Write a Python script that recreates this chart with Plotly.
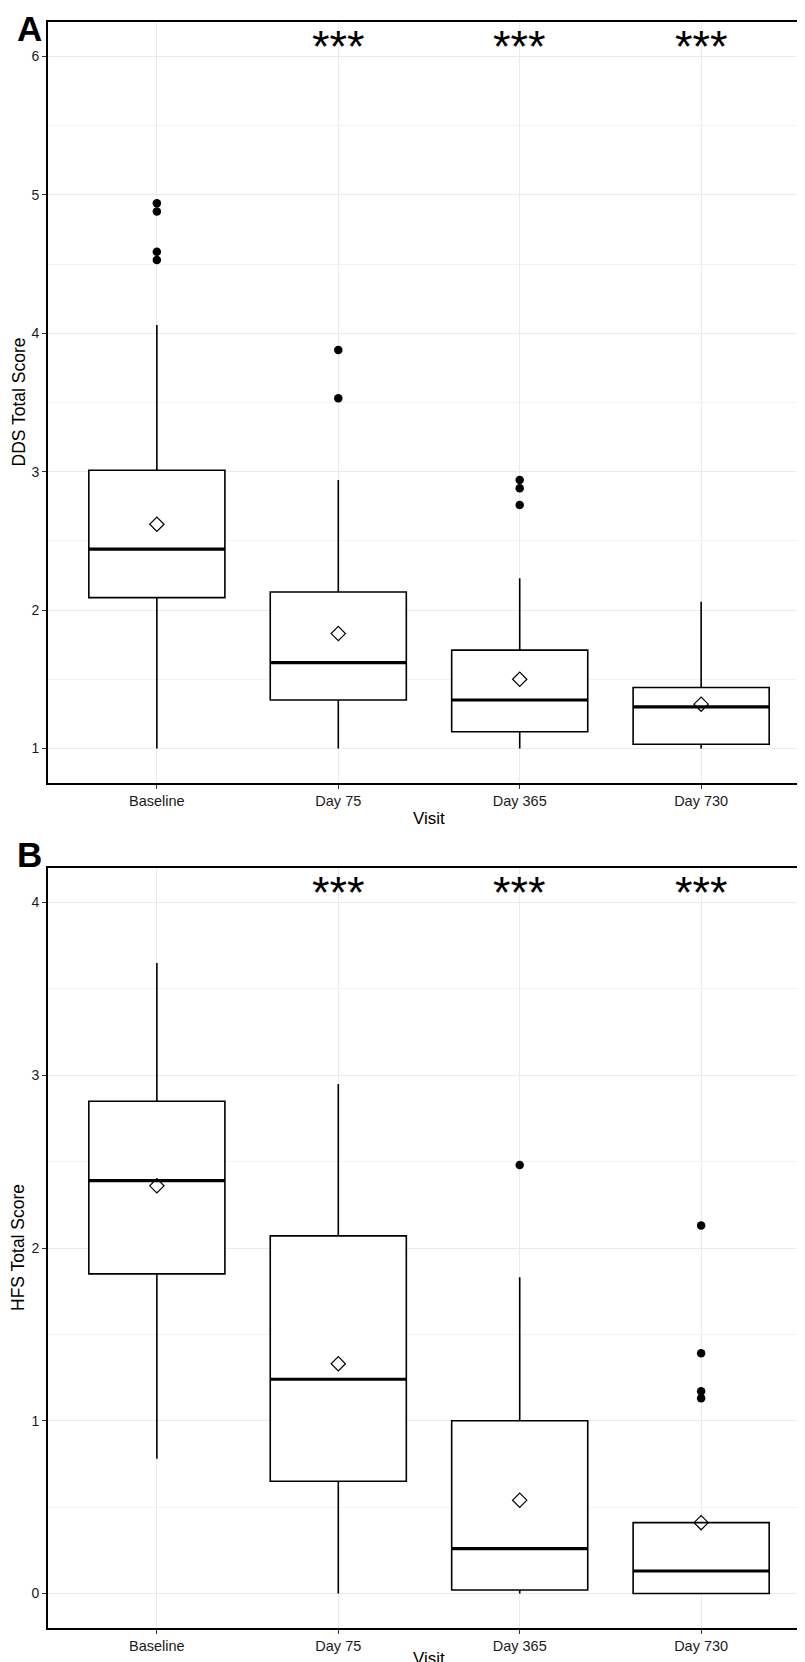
import plotly.graph_objects as go

# ---------------- data ----------------
categories = ["Baseline", "Day 75", "Day 365", "Day 730"]
sig_labels = ["", "***", "***", "***"]

# Panel A: DDS Total Score
dds_lower = [1.00, 1.00, 1.00, 1.00]
dds_q1 = [2.09, 1.35, 1.12, 1.03]
dds_median = [2.44, 1.62, 1.35, 1.30]
dds_q3 = [3.01, 2.13, 1.71, 1.44]
dds_upper = [4.06, 2.94, 2.23, 2.06]
dds_mean = [2.62, 1.83, 1.50, 1.32]
dds_out_visit = ["Baseline", "Baseline", "Baseline", "Baseline", "Day 75", "Day 75", "Day 365", "Day 365", "Day 365"]
dds_out_value = [4.94, 4.88, 4.59, 4.53, 3.88, 3.53, 2.94, 2.88, 2.76]

# Panel B: HFS Total Score
hfs_lower = [0.78, 0.00, 0.00, 0.00]
hfs_q1 = [1.85, 0.65, 0.02, 0.00]
hfs_median = [2.39, 1.24, 0.26, 0.13]
hfs_q3 = [2.85, 2.07, 1.00, 0.41]
hfs_upper = [3.65, 2.95, 1.83, 0.41]
hfs_mean = [2.36, 1.33, 0.54, 0.41]
hfs_out_visit = ["Day 365", "Day 730", "Day 730", "Day 730", "Day 730"]
hfs_out_value = [2.48, 2.13, 1.39, 1.17, 1.13]

sig_y_dds = 6
sig_y_hfs = 4

# ---------------- styling ----------------
W, H = 805, 1662
FONT = "Liberation Sans, Arial, Helvetica, sans-serif"
BOX_W = 0.75
pos = list(range(len(categories)))
idx = {c: i for i, c in enumerate(categories)}


def py(px):
    return 1 - px / H


def px_x(px):
    return px / W


fig = go.Figure()

panels = [
    dict(xa="x", ya="y", lower=dds_lower, q1=dds_q1, med=dds_median, q3=dds_q3, upper=dds_upper,
         mean=dds_mean, ov=dds_out_visit, oy=dds_out_value, sigy=sig_y_dds),
    dict(xa="x2", ya="y2", lower=hfs_lower, q1=hfs_q1, med=hfs_median, q3=hfs_q3, upper=hfs_upper,
         mean=hfs_mean, ov=hfs_out_visit, oy=hfs_out_value, sigy=sig_y_hfs),
]

for p in panels:
    fig.add_trace(go.Box(
        x=pos, lowerfence=p["lower"], q1=p["q1"], median=p["med"], q3=p["q3"], upperfence=p["upper"],
        width=BOX_W, whiskerwidth=0, fillcolor="white",
        line=dict(color="black", width=1.6), boxpoints=False,
        xaxis=p["xa"], yaxis=p["ya"], showlegend=False, hoverinfo="skip",
    ))
    # thick median lines
    mx, my = [], []
    for i, m in zip(pos, p["med"]):
        mx += [i - BOX_W / 2, i + BOX_W / 2, None]
        my += [m, m, None]
    fig.add_trace(go.Scatter(x=mx, y=my, mode="lines", line=dict(color="black", width=3.2),
                             xaxis=p["xa"], yaxis=p["ya"], showlegend=False, hoverinfo="skip"))
    # outliers
    fig.add_trace(go.Scatter(x=[idx[v] for v in p["ov"]], y=p["oy"], mode="markers",
                             marker=dict(color="black", size=8.5, symbol="circle"),
                             xaxis=p["xa"], yaxis=p["ya"], showlegend=False, hoverinfo="skip"))
    # means
    fig.add_trace(go.Scatter(x=pos, y=p["mean"], mode="markers",
                             marker=dict(color="black", size=11, symbol="diamond-open", line=dict(width=1.2)),
                             xaxis=p["xa"], yaxis=p["ya"], showlegend=False, hoverinfo="skip"))

annotations = []
for p in panels:
    for i, s in zip(pos, sig_labels):
        if s:
            annotations.append(dict(x=i, y=p["sigy"], xref=p["xa"], yref=p["ya"], text=s,
                                    showarrow=False, xanchor="center", yanchor="middle", yshift=10,
                                    font=dict(family=FONT, size=45, color="black")))

xaxis_common = dict(
    range=[-0.6, 3.6], tickmode="array", tickvals=pos, ticktext=categories,
    showgrid=True, gridcolor="#EBEBEB", gridwidth=1, zeroline=False,
    showline=True, linecolor="black", linewidth=1.6, mirror=True,
    ticks="outside", ticklen=4, tickwidth=1, tickcolor="#333333",
    tickfont=dict(family=FONT, size=14.5, color="#1a1a1a"),
)
yaxis_common = dict(
    dtick=1, showgrid=True, gridcolor="#EBEBEB", gridwidth=1, zeroline=False,
    showline=True, linecolor="black", linewidth=1.6, mirror=True,
    ticks="outside", ticklen=4, tickwidth=1, tickcolor="#333333",
    tickfont=dict(family=FONT, size=14, color="#1a1a1a"),
    minor=dict(dtick=0.5, showgrid=True, gridcolor="#F2F2F2", gridwidth=0.6, ticks=""),
)

fig.update_layout(
    width=W, height=H, margin=dict(l=0, r=0, t=0, b=0),
    paper_bgcolor="white", plot_bgcolor="white",
    xaxis=dict(**xaxis_common, domain=[px_x(40), px_x(802)], anchor="y"),
    yaxis=dict(**yaxis_common, range=[0.75, 6.25], domain=[py(775), py(14)], anchor="x", tick0=1),
    xaxis2=dict(**xaxis_common, domain=[px_x(40), px_x(802)], anchor="y2"),
    yaxis2=dict(**yaxis_common, range=[-0.2, 4.2], domain=[py(1620), py(860)], anchor="x2", tick0=0),
    showlegend=False,
)

# titles and panel letters
annotations += [
    dict(x=px_x(421), y=py(810), xref="paper", yref="paper", text="Visit", showarrow=False,
         xanchor="center", yanchor="middle", font=dict(family=FONT, size=17, color="black")),
    dict(x=px_x(421), y=py(1650), xref="paper", yref="paper", text="Visit", showarrow=False,
         xanchor="center", yanchor="middle", font=dict(family=FONT, size=17, color="black")),
    dict(x=px_x(10), y=py(394.5), xref="paper", yref="paper", text="DDS Total Score", showarrow=False,
         textangle=-90, xanchor="center", yanchor="middle", font=dict(family=FONT, size=17.5, color="black")),
    dict(x=px_x(10), y=py(1240), xref="paper", yref="paper", text="HFS Total Score", showarrow=False,
         textangle=-90, xanchor="center", yanchor="middle", font=dict(family=FONT, size=17.5, color="black")),
    dict(x=px_x(21), y=py(20), xref="paper", yref="paper", text="<b>A</b>", showarrow=False,
         xanchor="center", yanchor="middle", font=dict(family=FONT, size=35, color="black")),
    dict(x=px_x(21), y=py(847), xref="paper", yref="paper", text="<b>B</b>", showarrow=False,
         xanchor="center", yanchor="middle", font=dict(family=FONT, size=35, color="black")),
]
fig.update_layout(annotations=annotations)

fig.write_html("out.html")
